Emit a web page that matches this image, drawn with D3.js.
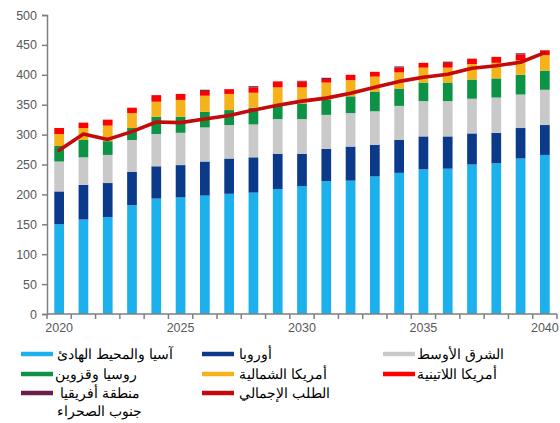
<!DOCTYPE html>
<html lang="ar">
<head>
<meta charset="utf-8">
<script src="https://cdn.jsdelivr.net/npm/d3@7/dist/d3.min.js"></script>
<style>
  html, body { margin: 0; padding: 0; background: #ffffff; }
  svg { display: block; font-family: "Liberation Sans", Arial, sans-serif; }
</style>
</head>
<body>
<svg id="chart" width="560" height="423"></svg>
<script>
// Years on the horizontal axis
const years = d3.range(2020, 2041);

// Demand by region (stacked bottom to top)
const asiaPacific   = [150,158,162,182,193,195,198,201,203,209,214,222,223,230,236,242,243,250,252,260,266];
const europe        = [55,58,57,56,54,54,57,59,59,59,54,54,57,53,55,55,54,52,51,51,50];
const middleEast    = [50,46,47,53,54,54,57,56,55,58,58,57,56,56,57,59,59,58,59,56,59];
const russiaCaspian = [26,29,23,20,29,27,26,25,28,24,26,25,28,33,29,31,31,32,32,33,32];
const northAmerica  = [20,20,26,25,25,28,27,27,25,29,27,29,27,25,27,25,25,26,26,24,26];
const latinAmerica  = [10,9,10,9,11,10,8,8,9,10,10,6,9,8,8,8,8,9,10,10,8];
const subSaharan    = [0,0,0,0,0,0,2,0,2,0,1,2,0,0,2,0,2,0,0,2,0];

// Total demand line
const totalDemand   = [274,301,292,305,321,320,326,332,341,349,356,361,369,379,389,396,401,411,415,421,437];

// Tick labels
const yTicks = [0,50,100,150,200,250,300,350,400,450,500];
const xLabelYears = [2020,2025,2030,2035,2040];

const seriesDefs = [
  { key: "asia",   name: "آسيا والمحيط الهادئ", values: asiaPacific,   color: "#1cb0ec" },
  { key: "europe", name: "أوروبا",              values: europe,        color: "#0c3a8a" },
  { key: "me",     name: "الشرق الأوسط",        values: middleEast,    color: "#c9c9c9" },
  { key: "russia", name: "روسيا وقزوين",        values: russiaCaspian, color: "#0d9345" },
  { key: "na",     name: "أمريكا الشمالية",     values: northAmerica,  color: "#f6b21b" },
  { key: "latam",  name: "أمريكا اللاتينية",    values: latinAmerica,  color: "#fe0000" },
  { key: "africa", name: "منطقة أفريقيا",       values: subSaharan,    color: "#6a1f4b" }
];

const rows = years.map((y, i) => {
  const r = { year: y };
  seriesDefs.forEach(s => { r[s.key] = s.values[i]; });
  return r;
});

const stack = d3.stack().keys(seriesDefs.map(s => s.key));
const stacked = stack(rows);

const svg = d3.select("#chart");

const plotLeft = 47, plotRight = 557, plotTop = 15, plotBottom = 314;

const y = d3.scaleLinear().domain([0, 500]).range([plotBottom, plotTop]);
const xOuter = d3.scaleBand().domain(years).range([plotLeft, plotRight]).padding(0);
const x = d3.scaleBand().domain(years).range([plotLeft, plotRight])
  .paddingInner(0.6).paddingOuter(0.3);

// Bars
const layer = svg.append("g").selectAll("g")
  .data(stacked)
  .join("g")
  .attr("fill", (d, i) => seriesDefs[i].color);

layer.selectAll("rect")
  .data(d => d)
  .join("rect")
  .attr("x", d => x(d.data.year))
  .attr("width", x.bandwidth())
  .attr("y", d => y(d[1]))
  .attr("height", d => Math.max(0, y(d[0]) - y(d[1])));

// Y axis
const yAxis = d3.axisLeft(y).tickValues(yTicks).tickSize(5).tickPadding(5);
const gy = svg.append("g").attr("transform", `translate(${plotLeft},0)`).call(yAxis);
gy.select(".domain").attr("stroke", "#7f7f7f").attr("stroke-width", 1.5);
gy.selectAll(".tick line").attr("stroke", "#7f7f7f").attr("stroke-width", 1.5);
gy.selectAll(".tick text").attr("fill", "#595959").attr("font-size", 12.5)
  .attr("font-family", "Liberation Sans, Arial, sans-serif");

// X axis: tick marks on category boundaries, labels every five years
const gx = svg.append("g").attr("transform", `translate(0,${plotBottom})`);
gx.append("line")
  .attr("x1", plotLeft).attr("x2", plotRight)
  .attr("stroke", "#7f7f7f").attr("stroke-width", 1.5);
const boundaries = years.map(yr => xOuter(yr)).concat([plotRight]);
gx.selectAll("line.tick")
  .data(boundaries)
  .join("line")
  .attr("class", "tick")
  .attr("x1", d => d).attr("x2", d => d)
  .attr("y1", 0).attr("y2", 5)
  .attr("stroke", "#7f7f7f").attr("stroke-width", 1.5);
gx.selectAll("text")
  .data(xLabelYears)
  .join("text")
  .attr("x", d => x(d) + x.bandwidth() / 2)
  .attr("y", 18)
  .attr("text-anchor", "middle")
  .attr("fill", "#595959")
  .attr("font-size", 12.5)
  .text(d => d);

// Total demand line
const line = d3.line()
  .x((d, i) => x(years[i]) + x.bandwidth() / 2)
  .y(d => y(d));
svg.append("path")
  .datum(totalDemand)
  .attr("fill", "none")
  .attr("stroke", "#c40a0a")
  .attr("stroke-width", 3.6)
  .attr("stroke-linejoin", "round")
  .attr("stroke-linecap", "round")
  .attr("d", line);

// Legend
const legendItems = [
  { name: "آسيا والمحيط الهادئ", color: "#1cb0ec", sx: 21, tx: 57, ty: 354 },
  { name: "روسيا وقزوين",        color: "#0d9345", sx: 21, tx: 55, ty: 374 },
  { name: "منطقة أفريقيا",       color: "#6a1f4b", sx: 21, tx: 60, ty: 393, extra: "جنوب الصحراء" },
  { name: "أوروبا",              color: "#0c3a8a", sx: 202, tx: 239, ty: 354 },
  { name: "أمريكا الشمالية",     color: "#f6b21b", sx: 202, tx: 239, ty: 374 },
  { name: "الطلب الإجمالي",      color: "#c40a0a", sx: 202, tx: 239, ty: 393 },
  { name: "الشرق الأوسط",        color: "#c9c9c9", sx: 383, tx: 417, ty: 354 },
  { name: "أمريكا اللاتينية",    color: "#fe0000", sx: 383, tx: 417, ty: 374 }
];

const lg = svg.append("g");
legendItems.forEach(it => {
  lg.append("line")
    .attr("x1", it.sx).attr("x2", it.sx + 32)
    .attr("y1", it.ty).attr("y2", it.ty)
    .attr("stroke", it.color).attr("stroke-width", 4.5);
  lg.append("text")
    .attr("x", it.tx).attr("y", it.ty + 5)
    .attr("text-anchor", "start")
    .attr("fill", "#000")
    .attr("font-size", 14)
    .text(it.name);
  if (it.extra) {
    lg.append("text")
      .attr("x", 57).attr("y", it.ty + 23)
      .attr("text-anchor", "start")
      .attr("fill", "#000")
      .attr("font-size", 14)
      .text(it.extra);
  }
});
</script>
</body>
</html>
